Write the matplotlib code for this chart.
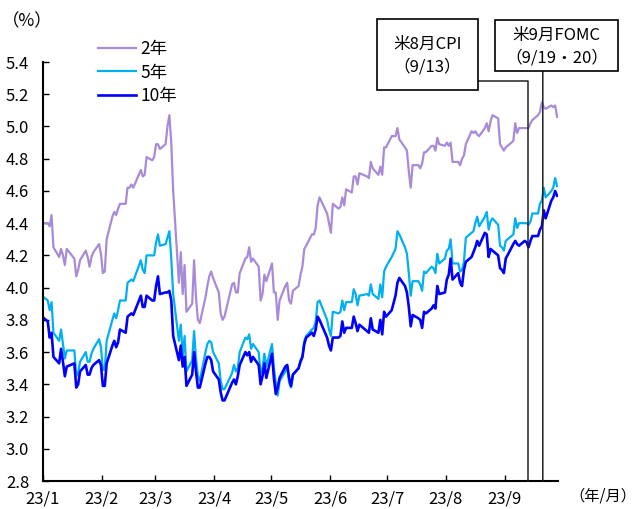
import matplotlib
matplotlib.use("Agg")
import matplotlib.pyplot as plt
from matplotlib.patches import Rectangle
import pandas as pd

plt.rcParams["font.family"] = ["Noto Sans CJK JP", "DejaVu Sans"]

# 米国債利回り（NY終値, %）。米国の営業日順、1要素目は 2022/12/30
US_HOLIDAYS = ["2023-01-02", "2023-01-16", "2023-02-20", "2023-04-07",
               "2023-05-29", "2023-06-19", "2023-07-04", "2023-09-04"]

Y2 = [
    4.40,
    4.40, 4.38, 4.45, 4.25, 4.19, 4.24, 4.20, 4.14, 4.24, 4.18, 4.07, 4.11, 4.17, 4.23, 4.19, 4.13, 4.19, 4.22, 4.27, 4.21,
    4.09, 4.10, 4.30, 4.44, 4.47, 4.45, 4.49, 4.52, 4.52, 4.62, 4.62, 4.64, 4.62, 4.73, 4.69, 4.70, 4.81, 4.79, 4.81,
    4.89, 4.89, 4.86, 4.89, 5.00, 5.07, 4.90, 4.60, 4.03, 4.22, 3.96, 4.14, 3.85, 3.90, 4.17, 3.94, 3.80, 3.78, 3.94, 4.01, 4.07, 4.10, 4.06,
    3.97, 3.84, 3.80, 3.82, 4.02, 4.03, 3.97, 3.97, 4.09, 4.18, 4.19, 4.25, 4.16, 4.18, 4.13, 3.92, 3.96, 4.08, 4.04,
    4.15, 3.97, 3.97, 3.80, 3.92, 4.01, 4.03, 3.92, 3.90, 3.98, 4.01, 4.08, 4.13, 4.24, 4.26, 4.33, 4.33, 4.37, 4.51, 4.56, 4.46, 4.40,
    4.34, 4.52, 4.49, 4.50, 4.56, 4.51, 4.61, 4.59, 4.69, 4.69, 4.64, 4.71, 4.69, 4.68, 4.78, 4.74, 4.70, 4.75, 4.70, 4.87, 4.87,
    4.94, 4.94, 4.99, 4.92, 4.87, 4.85, 4.72, 4.62, 4.76, 4.76, 4.74, 4.77, 4.84, 4.84, 4.88, 4.88, 4.85, 4.93, 4.89, 4.88,
    4.90, 4.88, 4.90, 4.78, 4.78, 4.76, 4.80, 4.82, 4.89, 4.97, 4.96, 4.97, 4.95, 4.94, 4.99, 5.02, 4.97, 5.03, 5.07, 5.05, 4.89, 4.87, 4.85,
    4.87, 4.91, 5.02, 4.96, 4.99, 4.99, 4.99, 4.99, 5.02, 5.04, 5.07, 5.09, 5.15, 5.12, 5.11, 5.13, 5.12, 5.13, 5.06,
]

Y5 = [
    3.96,
    3.92, 3.86, 3.91, 3.72, 3.67, 3.74, 3.65, 3.56, 3.61, 3.61, 3.45, 3.47, 3.54, 3.60, 3.54, 3.54, 3.59, 3.62, 3.68, 3.63,
    3.49, 3.49, 3.67, 3.80, 3.84, 3.81, 3.86, 3.92, 3.92, 4.03, 4.04, 4.05, 4.04, 4.17, 4.11, 4.09, 4.20, 4.20, 4.20,
    4.28, 4.33, 4.26, 4.27, 4.31, 4.35, 4.18, 3.96, 3.67, 3.77, 3.57, 3.70, 3.48, 3.55, 3.73, 3.56, 3.45, 3.42, 3.60, 3.65, 3.67, 3.66, 3.60,
    3.53, 3.42, 3.37, 3.37, 3.47, 3.52, 3.48, 3.50, 3.60, 3.69, 3.68, 3.71, 3.62, 3.65, 3.60, 3.47, 3.50, 3.59, 3.51,
    3.65, 3.50, 3.41, 3.33, 3.42, 3.48, 3.51, 3.41, 3.38, 3.46, 3.50, 3.55, 3.57, 3.67, 3.70, 3.74, 3.75, 3.79, 3.91, 3.92, 3.80, 3.74,
    3.70, 3.85, 3.84, 3.85, 3.92, 3.86, 3.91, 3.91, 3.99, 3.96, 3.89, 3.95, 3.96, 3.95, 4.02, 3.96, 3.93, 4.02, 3.94, 4.10, 4.13,
    4.19, 4.24, 4.35, 4.33, 4.25, 4.21, 4.09, 3.95, 4.04, 4.04, 4.02, 3.98, 4.10, 4.09, 4.13, 4.12, 4.09, 4.21, 4.15, 4.18,
    4.23, 4.24, 4.30, 4.15, 4.15, 4.10, 4.11, 4.16, 4.31, 4.34, 4.35, 4.40, 4.44, 4.38, 4.44, 4.47, 4.36, 4.41, 4.43, 4.39, 4.26, 4.25, 4.23,
    4.29, 4.33, 4.43, 4.37, 4.40, 4.40, 4.40, 4.39, 4.41, 4.46, 4.46, 4.52, 4.54, 4.62, 4.56, 4.60, 4.62, 4.68, 4.63,
]

Y10 = [
    3.83,
    3.79, 3.69, 3.72, 3.57, 3.53, 3.62, 3.54, 3.45, 3.51, 3.53, 3.38, 3.40, 3.48, 3.52, 3.46, 3.46, 3.50, 3.52, 3.55, 3.52,
    3.39, 3.39, 3.53, 3.64, 3.67, 3.63, 3.66, 3.74, 3.72, 3.82, 3.83, 3.84, 3.83, 3.95, 3.88, 3.88, 3.95, 3.92, 3.92,
    4.01, 4.07, 3.96, 3.97, 3.97, 3.98, 3.92, 3.70, 3.55, 3.64, 3.51, 3.57, 3.39, 3.46, 3.60, 3.48, 3.38, 3.38, 3.53, 3.57, 3.57, 3.55, 3.48,
    3.43, 3.35, 3.30, 3.30, 3.41, 3.43, 3.40, 3.45, 3.52, 3.60, 3.58, 3.60, 3.54, 3.57, 3.52, 3.40, 3.45, 3.53, 3.44,
    3.59, 3.44, 3.34, 3.38, 3.44, 3.51, 3.52, 3.44, 3.39, 3.46, 3.50, 3.54, 3.57, 3.65, 3.69, 3.72, 3.70, 3.74, 3.82, 3.80, 3.69, 3.64,
    3.61, 3.69, 3.69, 3.70, 3.79, 3.72, 3.75, 3.75, 3.82, 3.78, 3.73, 3.77, 3.73, 3.72, 3.81, 3.74, 3.72, 3.80, 3.71, 3.85, 3.82,
    3.86, 3.95, 4.03, 4.06, 4.01, 3.97, 3.88, 3.76, 3.83, 3.81, 3.80, 3.75, 3.85, 3.84, 3.87, 3.89, 3.87, 4.01, 3.96, 3.97,
    4.05, 4.08, 4.18, 4.05, 4.09, 4.03, 4.01, 4.11, 4.16, 4.19, 4.22, 4.25, 4.29, 4.26, 4.34, 4.33, 4.19, 4.24, 4.23, 4.20, 4.12, 4.11, 4.09,
    4.18, 4.27, 4.29, 4.27, 4.26, 4.29, 4.28, 4.25, 4.29, 4.32, 4.32, 4.36, 4.38, 4.48, 4.43, 4.54, 4.56, 4.60, 4.57,
]

SERIES_LABELS = ["2年", "5年", "10年"]
SERIES_COLORS = ["#a78bd9", "#00b0f0", "#0000ff"]
SERIES_WIDTHS = [1.6, 1.6, 1.9]

MONTH_TICKS = pd.date_range("2023-01-01", "2023-09-01", freq="MS")
MONTH_LABELS = ["23/1", "23/2", "23/3", "23/4", "23/5", "23/6", "23/7", "23/8", "23/9"]
Y_TICKS = [2.8, 3.0, 3.2, 3.4, 3.6, 3.8, 4.0, 4.2, 4.4, 4.6, 4.8, 5.0, 5.2, 5.4]

CPI_DATE = pd.Timestamp("2023-09-13")
FOMC_DATE = pd.Timestamp("2023-09-21")

W, H = 638, 509


def _fig(x, y):
    """ピクセル位置（左上原点）→ figure fraction"""
    return x / W, 1 - y / H


# 各営業日の値は日付の中央に置く
us_days = (pd.bdate_range("2022-12-30", "2023-09-28")
           .drop(pd.to_datetime(US_HOLIDAYS)) + pd.Timedelta(hours=12))

fig = plt.figure(figsize=(W / 100, H / 100), dpi=100)
ax = fig.add_axes([43 / W, 28 / H, 515 / W, 419 / H])

for vals, lab, col, lw in zip((Y2, Y5, Y10), SERIES_LABELS, SERIES_COLORS, SERIES_WIDTHS):
    ax.plot(us_days, vals, color=col, linewidth=lw, label=lab)

ax.set_xlim(pd.Timestamp("2023-01-01"), pd.Timestamp("2023-09-29"))
ax.set_ylim(2.8, 5.4)
ax.set_xticks(MONTH_TICKS)
ax.set_xticklabels(MONTH_LABELS)
ax.set_yticks(Y_TICKS)
ax.set_yticklabels([f"{v:.1f}" for v in Y_TICKS])
ax.tick_params(direction="in", length=4, width=1.0, labelsize=12)
ax.tick_params(axis="y", pad=10)
ax.tick_params(axis="x", pad=7)
for lado in ("top", "right"):
    ax.spines[lado].set_visible(False)
for lado in ("left", "bottom"):
    ax.spines[lado].set_linewidth(1.5)

ax.legend(loc="upper left", bbox_to_anchor=_fig(98, 40),
          bbox_transform=fig.transFigure, frameon=False, fontsize=12.5,
          handlelength=2.2, handletextpad=0.25, labelspacing=0.32,
          borderpad=0, borderaxespad=0)

fig.text(*_fig(27, 21), "（%）", ha="center", va="center", fontsize=12.5)
fig.text(*_fig(636, 496), "（年/月）", ha="right", va="center", fontsize=11)

# イベント注記の枠
for (x0, y0, x1, y1), lines, ys in (
    ((377, 19, 478, 90), ("米8月CPI", "（9/13）"), (44, 67)),
    ((495, 20, 618, 71), ("米9月FOMC", "（9/19・20）"), (35, 58)),
):
    fx, fy = _fig(x0, y1)
    fig.add_artist(Rectangle((fx, fy), (x1 - x0) / W, (y1 - y0) / H,
                             transform=fig.transFigure, facecolor="white",
                             edgecolor="black", linewidth=1.2))
    for txt, ty in zip(lines, ys):
        fig.text(*_fig((x0 + x1) / 2, ty), txt, ha="center", va="center",
                 fontsize=12)

# 注記から日付への引き出し線
ax.annotate("", xy=(CPI_DATE, 0), xycoords=("data", "axes fraction"),
            xytext=_fig(478, 81), textcoords="figure fraction",
            arrowprops=dict(arrowstyle="-", color="#222222", lw=1.1,
                            shrinkA=0, shrinkB=0,
                            connectionstyle="angle,angleA=0,angleB=90,rad=0"))
ax.annotate("", xy=(FOMC_DATE, 0), xycoords=("data", "axes fraction"),
            xytext=(FOMC_DATE, _fig(0, 71)[1]), textcoords=("data", "figure fraction"),
            arrowprops=dict(arrowstyle="-", color="#222222", lw=1.1,
                            shrinkA=0, shrinkB=0))

fig.savefig("out.png", dpi=100)
